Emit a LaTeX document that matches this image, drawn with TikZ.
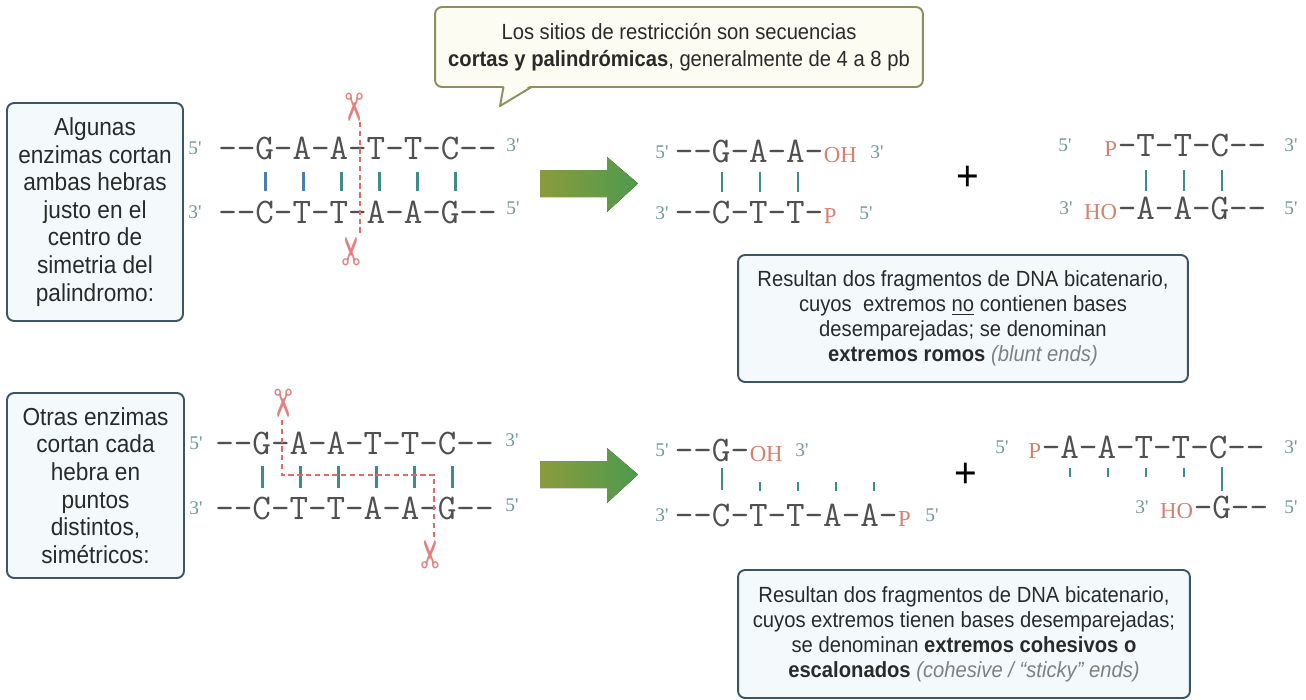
\documentclass[tikz,border=0pt]{standalone}
\usepackage{fontspec}
\setmainfont{Liberation Sans}[FakeStretch=0.92]
\newfontfamily\dnafont{Latin Modern Mono}[Ligatures=TeXOff]
\newfontfamily\endfont{Liberation Serif}
\newfontfamily\symfont{DejaVu Sans}
\usepackage{xcolor}
\usetikzlibrary{arrows.meta}
\definecolor{boxB}{HTML}{3B5566}
\definecolor{boxBg}{HTML}{F4FAFC}
\definecolor{callB}{HTML}{8E8E5E}
\definecolor{callBg}{HTML}{FCFCF2}
\definecolor{txtD}{HTML}{2A2A2A}
\definecolor{baseG}{HTML}{505050}
\definecolor{endT}{HTML}{6E9A98}
\definecolor{ohR}{HTML}{D8806E}
\definecolor{barT}{HTML}{3E8C86}
\definecolor{barB}{HTML}{4A7FAA}
\definecolor{cutR}{HTML}{E06A6A}
\definecolor{arrL}{HTML}{8C9A3C}
\definecolor{arrR}{HTML}{4E9A4E}

\begin{document}
\begin{tikzpicture}[x=0.02cm, y=-0.02cm,
  dna/.style={font=\dnafont\fontsize{20.5}{22}\selectfont, text=baseG, inner sep=0, anchor=base west},
  ohlab/.style={font=\endfont\fontsize{13}{14}\selectfont, text=ohR, inner sep=0},
  endlab/.style={font=\endfont\fontsize{11}{12}\selectfont, text=endT, inner sep=0},
  bar/.style={barT, line width=1.5pt},
  stub/.style={barT, line width=1.1pt},
  cut/.style={cutR, dashed, line width=0.6pt, dash pattern=on 3pt off 2pt},
  tijera/.style={font=\symfont\fontsize{22}{22}\selectfont, text=cutR!85, inner sep=0},
  infobox/.style={draw=boxB, fill=boxBg, line width=1.1pt, rounded corners=4pt,
    align=center, text=txtD, inner sep=0},
  bigarrow/.style={left color=arrL, right color=arrR, draw=none},
  plus/.style={font=\fontsize{24}{24}\selectfont, text=black, inner sep=0}]
  \path[use as bounding box] (0,0) rectangle (1306,700);

  % ---- callout on top
  \node[draw=callB, fill=callBg, line width=1.1pt, rounded corners=4pt, align=center,
    text=txtD, minimum width=9.76cm, minimum height=1.6cm, inner sep=0,
    font=\fontsize{12.5}{15.3}\selectfont] (sitios) at (679,47)
    {Los sitios de restricción son secuencias\\
     \textbf{cortas y palindrómicas}, generalmente de 4 a 8 pb};
  \coordinate (tipL) at (503.5,87);
  \coordinate (tip) at (500,106);
  \coordinate (tipR) at (531.5,87);
  \fill[callBg] (504,85) -- (tip) -- (531,85) -- cycle;
  \draw[callB, line width=1.1pt, line join=round] (tipL) -- (tip) -- (tipR);

  % ---- left text boxes
  \node[infobox, minimum width=3.52cm, minimum height=4.36cm,
    font=\fontsize{14}{15.7}\selectfont] (algunas) at (95,212)
    {Algunas\\enzimas cortan\\ambas hebras\\justo en el\\centro de\\simetria del\\palindromo:};
  \node[infobox, minimum width=3.54cm, minimum height=3.7cm,
    font=\fontsize{14}{15.7}\selectfont] (otras) at (95.5,485.5)
    {Otras enzimas\\cortan cada\\hebra en\\puntos\\distintos,\\simétricos:};

  % ---- right text boxes
  \node[infobox, minimum width=9.0cm, minimum height=2.54cm,
    font=\fontsize{12.5}{14.2}\selectfont] (romos) at (963,318.5)
    {Resultan dos fragmentos de DNA bicatenario,\\
     cuyos~ extremos \underline{no} contienen bases\\
     desemparejadas; se denominan\\
     \textbf{extremos romos} \textcolor{gray}{\textit{(blunt ends)}}};
  \node[infobox, minimum width=9.04cm, minimum height=2.56cm,
    font=\fontsize{12.5}{14.2}\selectfont] (cohesivos) at (964,634)
    {Resultan dos fragmentos de DNA bicatenario,\\
     cuyos extremos tienen bases desemparejadas;\\
     se denominan \textbf{extremos cohesivos o}\\
     \textbf{escalonados} \textcolor{gray}{\textit{(cohesive / “sticky” ends)}}};

  % ---- panel 1: cut at the centre of symmetry
  \node[dna] (sup1) at (218,159) {--G-A-A-T-T-C--};
  \node[dna] (inf1) at (218,223) {--C-T-T-A-A-G--};
  \node[endlab] (s1a) at (195,148) {5'};
  \node[endlab] (s1b) at (195,212) {3'};
  \node[endlab] (s1c) at (513,145) {3'};
  \node[endlab] (s1d) at (513,208) {5'};
  \foreach \x/\c in {265.5/barB,303.5/barB,341.5/barT,379.5/barT,417.5/barT,455.5/barT}
    \draw[bar, \c] (\x,172) -- (\x,191);
  \draw[cut] (360,122) -- (360,236);
  \node[tijera, rotate=-90] (tij1) at (352,108) {✂};
  \node[tijera, rotate=90] (tij2) at (354,251) {✂};

  % ---- panel 2: staggered cut
  \node[dna] (sup2) at (215,454) {--G-A-A-T-T-C--};
  \node[dna] (inf2) at (215,519) {--C-T-T-A-A-G--};
  \node[endlab] (s2a) at (196,443) {5'};
  \node[endlab] (s2b) at (196,508) {3'};
  \node[endlab] (s2c) at (512,440) {3'};
  \node[endlab] (s2d) at (512,505) {5'};
  \foreach \x in {262.5,300.5,338.5,376.5,414.5,452.5}
    \draw[bar] (\x,466) -- (\x,488);
  \draw[cut] (282,420) -- (282,475) -- (434,475) -- (434,538);
  \node[tijera, rotate=-90] (tij3) at (281,404) {✂};
  \node[tijera, rotate=90] (tij4) at (433,554) {✂};

  % ---- green arrows
  \fill[bigarrow] (540,170) -- (607,170) -- (607,157) -- (638,183.5)
    -- (607,212) -- (607,197) -- (540,197) -- cycle;
  \fill[bigarrow] (540,461) -- (607,461) -- (607,448) -- (638,474.5)
    -- (607,503) -- (607,488) -- (540,488) -- cycle;

  % ---- blunt fragments
  \node[dna] (fa1) at (674.5,162) {--G-A-A-};
  \node[ohlab, anchor=base west] (fa1oh) at (fa1.base east) {OH};
  \node[dna] (fa2) at (674.5,223) {--C-T-T-};
  \node[ohlab, anchor=base west] (fa2p) at (fa2.base east) {P};
  \node[endlab] (fa3) at (662,152) {5'};
  \node[endlab] (fa4) at (877,152) {3'};
  \node[endlab] (fa5) at (662,213) {3'};
  \node[endlab] (fa6) at (866,213) {5'};
  \foreach \x in {722,760,798}
    \draw[bar] (\x,172) -- (\x,192);
  \node[plus] (mas1) at (968,178) {+};
  \node[dna] (fb1) at (1117.5,156) {-T-T-C--};
  \node[ohlab, anchor=base east] (fb1p) at (fb1.base west) {P};
  \node[dna] (fb2) at (1117.5,219) {-A-A-G--};
  \node[ohlab, anchor=base east] (fb2ho) at (fb2.base west) {HO};
  \node[endlab] (fb3) at (1065,145) {5'};
  \node[endlab] (fb4) at (1291,145) {3'};
  \node[endlab] (fb5) at (1066,208) {3'};
  \node[endlab] (fb6) at (1291,208) {5'};
  \foreach \x in {1146,1184,1222}
    \draw[bar] (\x,170) -- (\x,191);

  % ---- sticky fragments
  \node[dna] (fc1) at (674.5,461) {--G-};
  \node[ohlab, anchor=base west] (fc1oh) at (fc1.base east) {OH};
  \node[dna] (fc2) at (674.5,526) {--C-T-T-A-A-};
  \node[ohlab, anchor=base west] (fc2p) at (fc2.base east) {P};
  \node[endlab] (fc3) at (662,450) {5'};
  \node[endlab] (fc4) at (802,450) {3'};
  \node[endlab] (fc5) at (662,515) {3'};
  \node[endlab] (fc6) at (932,515) {5'};
  \draw[bar] (722,468) -- (722,490);
  \foreach \x in {760,798,836,874}
    \draw[stub] (\x,482) -- (\x,491);
  \node[plus] (mas2) at (966,475) {+};
  \node[dna] (fd1) at (1041.5,458) {-A-A-T-T-C--};
  \node[ohlab, anchor=base east] (fd1p) at (fd1.base west) {P};
  \node[dna] (fd2) at (1193.5,518) {-G--};
  \node[ohlab, anchor=base east] (fd2ho) at (fd2.base west) {HO};
  \node[endlab] (fd3) at (1002,447) {5'};
  \node[endlab] (fd4) at (1291,447) {3'};
  \node[endlab] (fd5) at (1142,507) {3'};
  \node[endlab] (fd6) at (1291,507) {5'};
  \foreach \x in {1070,1108,1146,1184}
    \draw[stub] (\x,468) -- (\x,477);
  \draw[bar] (1222,467) -- (1222,491);
\end{tikzpicture}
\end{document}
